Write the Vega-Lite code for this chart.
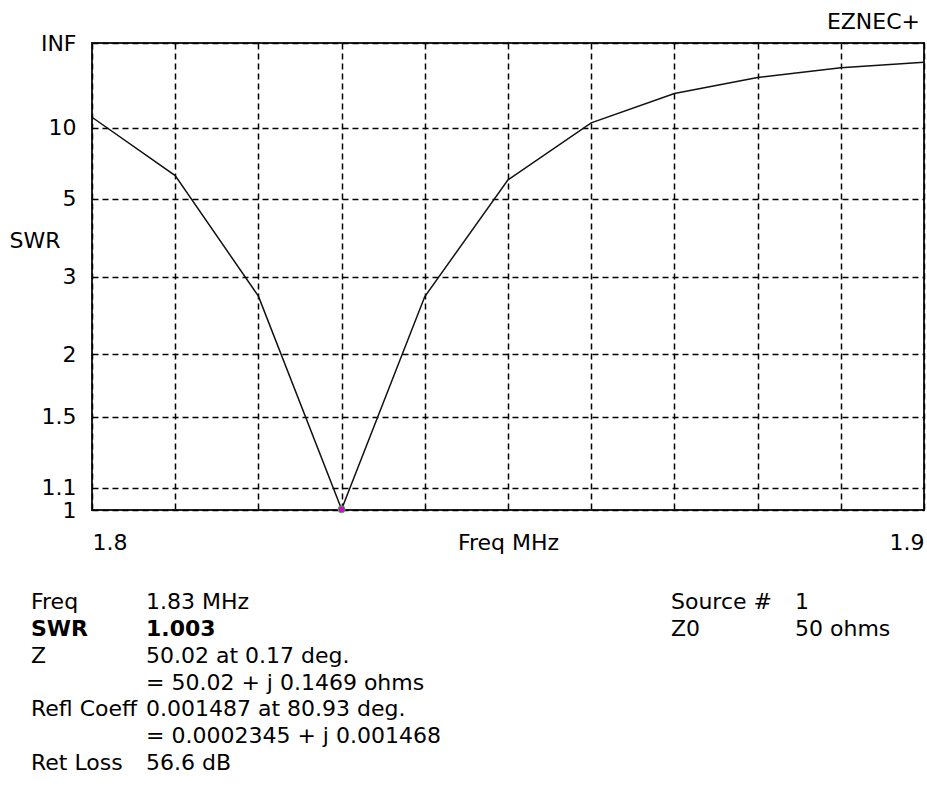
{
  "$schema": "https://vega.github.io/schema/vega-lite/v6.json",
  "padding": {"left": 8, "top": 10, "right": 0, "bottom": 0},
  "background": "white",
  "config": {
    "font": "DejaVu Sans",
    "view": {"stroke": null},
    "axis": {"labelFont": "DejaVu Sans", "titleFont": "DejaVu Sans", "labelFontSize": 22, "titleFontSize": 22, "labelColor": "#000", "titleColor": "#000", "titleFontWeight": "normal"},
    "text": {"font": "DejaVu Sans", "fontSize": 22, "color": "#000"},
    "title": {"font": "DejaVu Sans"}
  },
  "datasets": {
    "swr": [
      {"freq": 1.80, "swr": 11.6, "gamma": 0.841},
      {"freq": 1.81, "swr": 6.04, "gamma": 0.716},
      {"freq": 1.82, "swr": 2.69, "gamma": 0.458},
      {"freq": 1.83, "swr": 1.003, "gamma": 0.0015},
      {"freq": 1.84, "swr": 2.68, "gamma": 0.457},
      {"freq": 1.85, "swr": 5.83, "gamma": 0.707},
      {"freq": 1.86, "swr": 10.7, "gamma": 0.829},
      {"freq": 1.87, "swr": 17.5, "gamma": 0.892},
      {"freq": 1.88, "swr": 26.0, "gamma": 0.926},
      {"freq": 1.89, "swr": 36.7, "gamma": 0.947},
      {"freq": 1.90, "swr": 47.8, "gamma": 0.959}
    ],
    "info": [
      {"side": "left", "row": 0, "col": "name", "text": "Freq", "bold": false},
      {"side": "left", "row": 0, "col": "value", "text": "1.83 MHz", "bold": false},
      {"side": "left", "row": 1, "col": "name", "text": "SWR", "bold": true},
      {"side": "left", "row": 1, "col": "value", "text": "1.003", "bold": true},
      {"side": "left", "row": 2, "col": "name", "text": "Z", "bold": false},
      {"side": "left", "row": 2, "col": "value", "text": "50.02 at 0.17 deg.", "bold": false},
      {"side": "left", "row": 3, "col": "value", "text": "= 50.02 + j 0.1469 ohms", "bold": false},
      {"side": "left", "row": 4, "col": "name", "text": "Refl Coeff", "bold": false},
      {"side": "left", "row": 4, "col": "value", "text": "0.001487 at 80.93 deg.", "bold": false},
      {"side": "left", "row": 5, "col": "value", "text": "= 0.0002345 + j 0.001468", "bold": false},
      {"side": "left", "row": 6, "col": "name", "text": "Ret Loss", "bold": false},
      {"side": "left", "row": 6, "col": "value", "text": "56.6 dB", "bold": false},
      {"side": "right", "row": 0, "col": "name", "text": "Source #", "bold": false},
      {"side": "right", "row": 0, "col": "value", "text": "1", "bold": false},
      {"side": "right", "row": 1, "col": "name", "text": "Z0", "bold": false},
      {"side": "right", "row": 1, "col": "value", "text": "50 ohms", "bold": false}
    ]
  },
  "spacing": 37,
  "resolve": {"scale": {"x": "independent", "y": "independent"}},
  "vconcat": [
    {
      "width": 832,
      "height": 467,
      "view": {"stroke": "#222", "strokeWidth": 2},
      "title": {"text": "EZNEC+", "anchor": "end", "frame": "group", "offset": -2, "fontSize": 22, "fontWeight": "normal", "color": "#000", "dx": -4},
      "data": {"name": "swr"},
      "encoding": {
        "x": {
          "field": "freq", "type": "quantitative",
          "scale": {"domain": [1.8, 1.9], "nice": false, "zero": false},
          "axis": {
            "values": [1.8, 1.81, 1.82, 1.83, 1.84, 1.85, 1.86, 1.87, 1.88, 1.89, 1.9],
            "labelExpr": "abs(datum.value - 1.8) < 0.001 || abs(datum.value - 1.9) < 0.001 ? format(datum.value, '.1f') : ''",
            "labelFlush": true,
            "labelPadding": 22,
            "labelBaseline": "top",
            "ticks": false,
            "tickSize": 0,
            "domain": false,
            "grid": true,
            "gridColor": "#000",
            "gridDash": [6, 4],
            "gridWidth": 1.5,
            "gridOpacity": 1,
            "title": "Freq MHz",
            "titleY": 22,
            "titleBaseline": "top"
          }
        },
        "y": {
          "field": "gamma", "type": "quantitative",
          "scale": {"domain": [0, 1], "nice": false, "zero": false},
          "axis": {
            "values": [0, 0.047619, 0.2, 0.333333, 0.5, 0.666667, 0.818182, 1],
            "labelExpr": "datum.value > 0.99 ? 'INF' : format((1 + datum.value) / (1 - datum.value), '.2~f')",
            "labelOverlap": false,
            "labelFlush": false,
            "labelPadding": 16,
            "labelBaseline": "middle",
            "ticks": false,
            "tickSize": 0,
            "domain": false,
            "grid": true,
            "gridColor": "#000",
            "gridDash": [6, 4],
            "gridWidth": 1.5,
            "gridOpacity": 1,
            "title": "SWR",
            "titleAngle": 0,
            "titleAlign": "left",
            "titleBaseline": "middle",
            "titleX": -83,
            "titleY": 197
          }
        }
      },
      "layer": [
        {"mark": {"type": "line", "color": "#111", "strokeWidth": 1.5}},
        {
          "transform": [{"filter": "datum.freq == 1.83"}],
          "mark": {"type": "point", "filled": true, "color": "#e000e0", "stroke": "#22cc22", "strokeWidth": 1, "size": 50, "opacity": 1}
        }
      ]
    },
    {
      "bounds": "flush",
      "spacing": 464,
      "resolve": {"scale": {"x": "independent", "y": "independent"}},
      "hconcat": [
        {
          "width": 115,
          "height": 161,
          "data": {"name": "info"},
          "transform": [{"filter": "datum.side == 'left'"}],
          "encoding": {
            "x": {"field": "col", "type": "nominal", "scale": {"type": "point", "domain": ["name", "value"], "padding": 0}, "axis": null},
            "y": {"field": "row", "type": "ordinal", "scale": {"type": "point", "domain": [0, 1, 2, 3, 4, 5, 6], "padding": 0}, "axis": null},
            "text": {"field": "text"}
          },
          "layer": [
            {"transform": [{"filter": "!datum.bold"}], "mark": {"type": "text", "align": "left", "baseline": "alphabetic", "fontSize": 22, "color": "#000", "dx": -61}},
            {"transform": [{"filter": "datum.bold"}], "mark": {"type": "text", "align": "left", "baseline": "alphabetic", "fontSize": 22, "fontWeight": "bold", "color": "#000", "dx": -61}}
          ]
        },
        {
          "width": 124,
          "height": 161,
          "data": {"name": "info"},
          "transform": [{"filter": "datum.side == 'right'"}],
          "encoding": {
            "x": {"field": "col", "type": "nominal", "scale": {"type": "point", "domain": ["name", "value"], "padding": 0}, "axis": null},
            "y": {"field": "row", "type": "ordinal", "scale": {"type": "point", "domain": [0, 1, 2, 3, 4, 5, 6], "padding": 0}, "axis": null},
            "text": {"field": "text"}
          },
          "mark": {"type": "text", "align": "left", "baseline": "alphabetic", "fontSize": 22, "color": "#000"}
        }
      ]
    }
  ]
}
